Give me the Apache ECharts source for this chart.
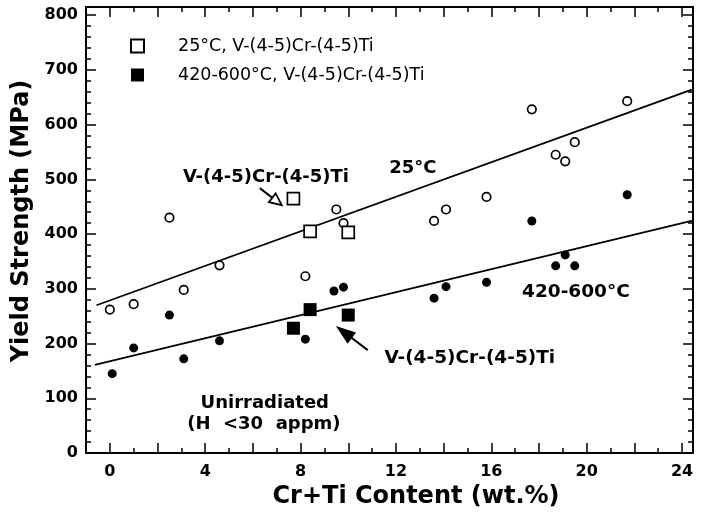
<!DOCTYPE html>
<html>
<head>
<meta charset="utf-8">
<script src="https://cdn.jsdelivr.net/npm/echarts@6/dist/echarts.min.js"></script>
<style>
  html, body { margin: 0; padding: 0; background: #fff; }
  #chart { width: 701px; height: 518px; }
</style>
</head>
<body>
<div id="chart"></div>
<script>
// Yield strength vs. Cr+Ti content, unirradiated vanadium alloys

// 25 °C tests (open circles)
const roomX = [0.0, 1.0, 2.5, 3.1, 4.6, 8.2, 9.5, 9.8, 13.6, 14.1, 15.8, 17.7, 18.7, 19.1, 19.5, 21.7];
const roomY = [262, 272, 430, 298, 343, 323, 445, 420, 424, 445, 468, 628, 545, 533, 568, 643];

// 420-600 °C tests (filled circles)
const hotX = [0.1, 1.0, 2.5, 3.1, 4.6, 8.2, 9.4, 9.8, 13.6, 14.1, 15.8, 17.7, 18.7, 19.1, 19.5, 21.7];
const hotY = [145, 192, 252, 172, 205, 208, 296, 303, 283, 304, 312, 424, 342, 362, 342, 472];

// V-(4-5)Cr-(4-5)Ti heats (squares)
const alloyX = [7.7, 8.4, 10.0];
const alloyRoomY = [465, 405, 403];
const alloyHotY = [228, 262, 252];

// linear fits (end points)
const fitRoomX = [-0.56, 24.41];
const fitRoomY = [270, 664];
const fitHotX = [-0.63, 24.48];
const fitHotY = [161, 425];

// tick labels
const xTickLabels = [0, 4, 8, 12, 16, 20, 24];
const yTickLabels = [0, 100, 200, 300, 400, 500, 600, 700, 800];

const roomName = '25°C, V-(4-5)Cr-(4-5)Ti';
const hotName = '420-600°C, V-(4-5)Cr-(4-5)Ti';
const xTitle = 'Cr+Ti Content (wt.%)';
const yTitle = 'Yield Strength (MPa)';

const zip = (xs, ys) => xs.map((x, i) => [x, ys[i]]);

const FONT = '"DejaVu Sans", "Liberation Sans", sans-serif';
const BLACK = '#000';

function xAxisDef(pos, showLabels) {
  return {
    type: 'value',
    position: pos,
    min: -1,
    max: 24.46,
    minInterval: 2,
    maxInterval: 2,
    axisLine: { show: true, onZero: false, lineStyle: { color: BLACK, width: 2 } },
    axisTick: { show: true, inside: true, length: 10, lineStyle: { color: BLACK, width: 1.5 } },
    minorTick: { show: true, splitNumber: 2, length: 5, lineStyle: { color: BLACK, width: 1.5 } },
    splitLine: { show: false },
    axisLabel: {
      show: showLabels,
      margin: 11,
      color: BLACK,
      fontFamily: FONT,
      fontWeight: 'bold',
      fontSize: 16,
      formatter: v => (xTickLabels.indexOf(v) >= 0 ? String(v) : '')
    }
  };
}

function yAxisDef(pos, showLabels) {
  return {
    type: 'value',
    position: pos,
    min: 0,
    max: 815,
    interval: 100,
    axisLine: { show: true, onZero: false, lineStyle: { color: BLACK, width: 2 } },
    axisTick: { show: true, inside: true, length: 10, lineStyle: { color: BLACK, width: 1.5 } },
    minorTick: { show: true, splitNumber: 5, length: 5, lineStyle: { color: BLACK, width: 1.5 } },
    splitLine: { show: false },
    axisLabel: {
      show: showLabels,
      margin: 8,
      color: BLACK,
      fontFamily: FONT,
      fontWeight: 'bold',
      fontSize: 16,
      formatter: v => (yTickLabels.indexOf(v) >= 0 ? String(v) : '')
    }
  };
}

const chart = echarts.init(document.getElementById('chart'), null, { renderer: 'canvas' });

chart.setOption({
  animation: false,
  backgroundColor: '#fff',
  grid: { left: 86, right: 8, top: 7, bottom: 65, containLabel: false },
  legend: {
    data: [roomName, hotName],
    orient: 'vertical',
    left: 125,
    top: 32,
    itemWidth: 13,
    itemHeight: 13,
    itemGap: 11,
    selectedMode: false,
    textStyle: { color: BLACK, fontFamily: FONT, fontSize: 17.5, padding: [0, 0, 0, 29] }
  },
  xAxis: [xAxisDef('bottom', true), xAxisDef('top', false)],
  yAxis: [yAxisDef('left', true), yAxisDef('right', false)],
  series: [
    {
      name: 'fit 25°C', type: 'line', data: zip(fitRoomX, fitRoomY),
      symbol: 'none', silent: true, lineStyle: { color: BLACK, width: 1.8 }, z: 2
    },
    {
      name: 'fit 420-600°C', type: 'line', data: zip(fitHotX, fitHotY),
      symbol: 'none', silent: true, lineStyle: { color: BLACK, width: 1.8 }, z: 2
    },
    {
      name: '25°C', type: 'scatter', data: zip(roomX, roomY),
      symbol: 'circle', symbolSize: 8.5,
      itemStyle: { color: '#fff', borderColor: BLACK, borderWidth: 1.7, opacity: 1 }, z: 3
    },
    {
      name: '420-600°C', type: 'scatter', data: zip(hotX, hotY),
      symbol: 'circle', symbolSize: 9,
      itemStyle: { color: BLACK, opacity: 1 }, z: 3
    },
    {
      name: roomName, type: 'scatter', data: zip(alloyX, alloyRoomY),
      symbol: 'rect', symbolSize: 12,
      itemStyle: { color: '#fff', borderColor: BLACK, borderWidth: 1.7, opacity: 1 }, z: 4
    },
    {
      name: hotName, type: 'scatter', data: zip(alloyX, alloyHotY),
      symbol: 'rect', symbolSize: 13,
      itemStyle: { color: BLACK, opacity: 1 }, z: 4
    }
  ]
});

// annotations anchored in data coordinates
const px = (x, y) => chart.convertToPixel({ gridIndex: 0 }, [x, y]);

function label(text, x, y, size) {
  const p = px(x, y);
  return {
    type: 'text', z: 10,
    style: {
      text, x: p[0], y: p[1], align: 'center', verticalAlign: 'middle',
      font: 'bold ' + size + 'px ' + FONT, fill: BLACK
    }
  };
}

function arrow(tailData, tipData, headLen, headHalf, hollow) {
  const t = px(tailData[0], tailData[1]);
  const h = px(tipData[0], tipData[1]);
  const dx = t[0] - h[0], dy = t[1] - h[1];
  const L = Math.hypot(dx, dy);
  const ux = dx / L, uy = dy / L;
  const bx = h[0] + ux * headLen, by = h[1] + uy * headLen;
  const nx = -uy, ny = ux;
  const head = [[h[0], h[1]], [bx + nx * headHalf, by + ny * headHalf], [bx - nx * headHalf, by - ny * headHalf]];
  return [
    {
      type: 'line', z: 10,
      shape: { x1: t[0], y1: t[1], x2: hollow ? bx : h[0] + ux * headLen * 0.6, y2: hollow ? by : h[1] + uy * headLen * 0.6 },
      style: { stroke: BLACK, lineWidth: 2 }
    },
    {
      type: 'polygon', z: 11,
      shape: { points: head },
      style: hollow ? { fill: '#fff', stroke: BLACK, lineWidth: 1.8 } : { fill: BLACK }
    }
  ];
}

// axis titles, centred under / beside the plot frame
const titleFont = 'bold 24px ' + FONT;

chart.setOption({
  graphic: [
    {
      type: 'text', z: 10,
      style: { text: xTitle, x: 416, y: 497, align: 'center', verticalAlign: 'middle', font: titleFont, fill: BLACK }
    },
    {
      type: 'text', z: 10, x: 22, y: 221, rotation: Math.PI / 2,
      style: { text: yTitle, x: 0, y: 0, align: 'center', verticalAlign: 'middle', font: titleFont, fill: BLACK }
    },
    label('V-(4-5)Cr-(4-5)Ti', 6.55, 504, 18),
    label('25°C', 12.71, 521, 18),
    label('420-600°C', 19.55, 294, 18.5),
    label('V-(4-5)Cr-(4-5)Ti', 15.10, 174, 18.5),
    label('Unirradiated', 6.50, 91, 18),
    label('(H  <30  appm)', 6.46, 53, 18),
    ...arrow([6.29, 484], [7.21, 453], 12, 5.5, true),
    ...arrow([10.82, 188], [9.48, 232], 20, 7, false)
  ]
});
</script>
</body>
</html>
